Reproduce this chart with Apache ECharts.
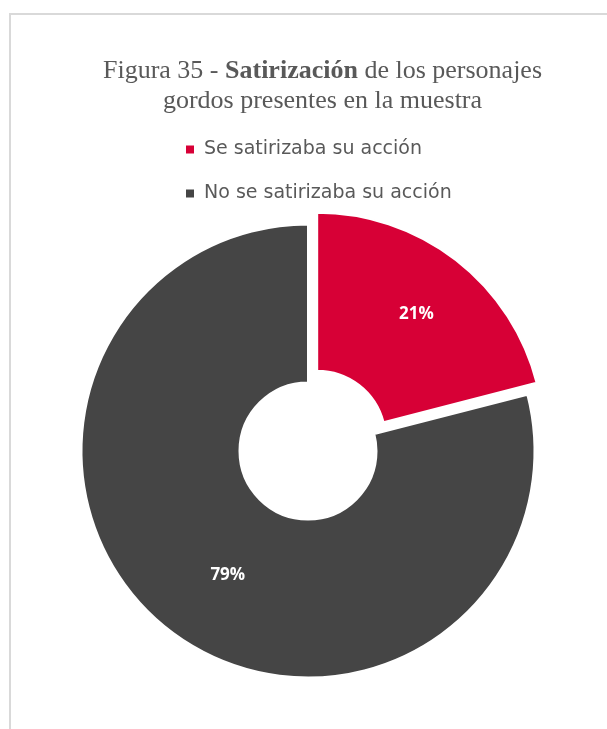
<!DOCTYPE html>
<html>
<head>
<meta charset="utf-8">
<script src="https://cdn.jsdelivr.net/npm/echarts@6/dist/echarts.min.js"></script>
<style>
  html, body { margin: 0; padding: 0; background: #ffffff; }
  #chart { width: 607px; height: 729px; }
</style>
</head>
<body>
<div id="chart"></div>
<script>
// Share of fat characters whose action was satirised
const categories = ['Se satirizaba su acción', 'No se satirizaba su acción'];
const shares = [21, 79];
const sliceColors = ['#d70036', '#454545'];

// Small nudges for the in-slice percentage labels
const labelNudge = [[7, -6], [12, 5]];

const chart = echarts.init(document.getElementById('chart'), null, { renderer: 'canvas' });

const pieData = categories.map((name, i) => ({
  name: name,
  value: shares[i],
  selected: i === 0,
  itemStyle: { color: sliceColors[i] }
}));

chart.setOption({
  animation: false,
  backgroundColor: '#ffffff',
  graphic: [{
    type: 'rect',
    silent: true,
    shape: { x: 10, y: 14, width: 800, height: 900 },
    style: { fill: 'none', stroke: '#d9d9d9', lineWidth: 2 }
  }],
  title: {
    text: 'Figura 35 - {b|Satirización} de los personajes\ngordos presentes en la muestra',
    left: 317.5,
    top: 51,
    textAlign: 'center',
    textStyle: {
      fontFamily: '"Liberation Serif", "Times New Roman", serif',
      fontSize: 26,
      fontWeight: 'normal',
      color: '#595959',
      lineHeight: 30,
      rich: {
        b: {
          fontFamily: '"Liberation Serif", "Times New Roman", serif',
          fontSize: 26,
          fontWeight: 'bold',
          color: '#595959',
          lineHeight: 30
        }
      }
    }
  },
  legend: {
    orient: 'vertical',
    left: 179,
    top: 134.5,
    icon: 'rect',
    itemWidth: 10,
    itemHeight: 10,
    itemGap: 24,
    data: categories,
    selectedMode: false,
    textStyle: {
      fontFamily: '"DejaVu Sans", sans-serif',
      fontSize: 19,
      lineHeight: 20,
      color: '#595959',
      padding: [0, 0, 0, 4]
    }
  },
  series: [{
    type: 'pie',
    center: [308, 451],
    radius: [68.5, 226.5],
    startAngle: 90,
    clockwise: true,
    selectedMode: 'single',
    selectedOffset: 15,
    avoidLabelOverlap: false,
    emphasis: { disabled: true },
    itemStyle: { borderColor: '#ffffff', borderWidth: 2 },
    label: {
      show: true,
      position: 'inside',
      formatter: '{c}%',
      color: '#ffffff',
      fontFamily: '"Open Sans", sans-serif',
      fontWeight: 'bold',
      fontSize: 17
    },
    labelLayout: function (params) {
      const n = labelNudge[params.dataIndex] || [0, 0];
      return { dx: n[0], dy: n[1] };
    },
    labelLine: { show: false },
    data: pieData
  }]
});
</script>
</body>
</html>
